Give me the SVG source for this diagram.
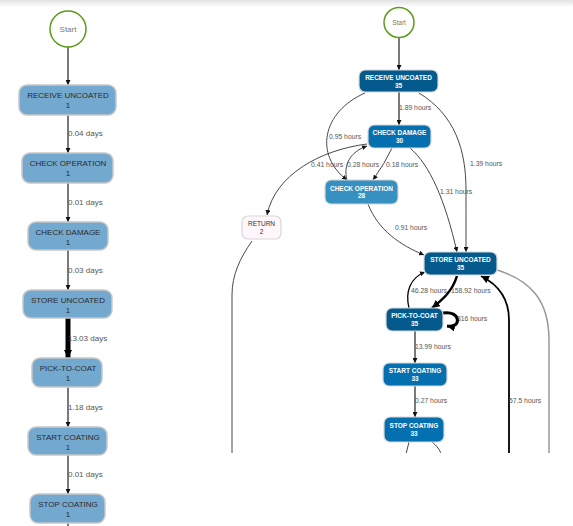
<svg xmlns="http://www.w3.org/2000/svg" width="573" height="526" viewBox="0 0 573 526">
<defs>
<linearGradient id="topshade" x1="0" y1="0" x2="0" y2="1">
<stop offset="0" stop-color="#e2e2e2"/>
<stop offset="1" stop-color="#ffffff"/>
</linearGradient>
<marker id="a" viewBox="0 0 10 10" refX="10" refY="5" markerWidth="5" markerHeight="5" markerUnits="userSpaceOnUse" orient="auto">
<path d="M0,0 L10,5 L0,10 z" fill="#111"/>
</marker>
<marker id="ab" viewBox="0 0 10 10" refX="10" refY="5" markerWidth="8" markerHeight="8" markerUnits="userSpaceOnUse" orient="auto">
<path d="M0,0 L10,5 L0,10 z" fill="#000"/>
</marker>
<clipPath id="rclip"><rect x="220" y="0" width="353" height="453"/></clipPath>
</defs>
<style>
.start{fill:#fff;stroke:#5c9b1c;stroke-width:1.5}
.st{font-family:"Liberation Sans",Arial,sans-serif;fill:#7a7a66;text-anchor:middle}
.ln{fill:#74a9cf;stroke:#c8c8c8;stroke-width:1.5}
.lt{font-family:"Liberation Sans",Arial,sans-serif;font-size:8px;fill:#2a2a2a;text-anchor:middle}
.rn{stroke:#d8d8d8;stroke-width:1.2}
.rt{font-family:"Liberation Sans",Arial,sans-serif;font-size:6.5px;font-weight:bold;fill:#fff;text-anchor:middle}
.rtd{font-family:"Liberation Sans",Arial,sans-serif;font-size:6.5px;fill:#333;text-anchor:middle}
.d1{fill:#045a8d}.d2{fill:#0570b0}.d3{fill:#3690c0}.d4{fill:#fff7fb}
.el{font-family:"Liberation Sans",Arial,sans-serif;font-size:8px;fill:#555}
.er{font-family:"Liberation Sans",Arial,sans-serif;font-size:6.8px;fill:#555}
.eg{fill:none;stroke:#7a7a7a;stroke-width:2}
.ek{fill:none;stroke:#333;stroke-width:0.9}
.eK{fill:none;stroke:#000}
</style>
<rect x="0" y="0" width="573" height="7" fill="url(#topshade)"/>

<g id="connectors">
<!-- left column -->
<path class="eg" d="M68 47 L68 85" marker-end="url(#a)"/>
<path class="eg" d="M68 115 L68 153" marker-end="url(#a)"/>
<path class="eg" d="M68 183 L68 222" marker-end="url(#a)"/>
<path class="eg" d="M68 250 L68 290" marker-end="url(#a)"/>
<path class="eK" stroke-width="5" d="M68 318 L68 358" marker-end="url(#ab)"/>
<path class="eg" d="M68 387 L68 427" marker-end="url(#a)"/>
<path class="eg" d="M68 455 L68 494" marker-end="url(#a)"/>
<path class="eg" d="M68 523 L68 527"/>
<text class="el" x="68" y="136">0.04 days</text>
<text class="el" x="68" y="205">0.01 days</text>
<text class="el" x="68" y="273">0.03 days</text>
<text class="el" x="68" y="341">13.03 days</text>
<text class="el" x="68" y="410">1.18 days</text>
<text class="el" x="68" y="477">0.01 days</text>

<!-- right panel -->
<g clip-path="url(#rclip)">
<path class="eg" d="M399 38 L399 70" marker-end="url(#a)"/>
<path class="eg" d="M399 92 L399 125" marker-end="url(#a)"/>
<path class="ek" d="M365 93 C322 112 314 155 347 180" marker-end="url(#a)"/>
<path class="ek" d="M419 93 C455 115 466 150 466 190 L466 252" marker-end="url(#a)"/>
<path class="ek" d="M392 148 Q385 163 373 180" marker-end="url(#a)"/>
<path class="ek" d="M347 180 C343 165 350 152 367 146" marker-end="url(#a)"/>
<path class="ek" d="M367 144 C320 150 275 175 267 215" marker-end="url(#a)"/>
<path class="ek" d="M410 148 C430 165 445 200 457 252" marker-end="url(#a)"/>
<path class="ek" d="M368 204 C378 230 400 245 424 255" marker-end="url(#a)"/>
<path class="eK" stroke-width="2.5" d="M457 276 C452 292 442 300 432 308" marker-end="url(#ab)"/>
<path class="eK" stroke-width="1.3" d="M409 308 C405 292 410 278 425 272" marker-end="url(#a)"/>
<text class="er" x="457" y="321">316 hours</text>
<path class="eK" stroke-width="3" d="M443 313 C461 310 462 329 447 326" marker-end="url(#ab)"/>
<path class="eg" stroke-width="1.4" d="M415 331 L415 363" marker-end="url(#a)"/>
<path class="eg" stroke-width="1.4" d="M415 386 L415 417" marker-end="url(#a)"/>
<path class="ek" d="M409 442 L406 454"/>
<path class="ek" d="M432 442 C437 446 440 450 441 454"/>
<path class="eK" stroke-width="1.8" d="M509 454 L509 320 C509 295 495 283 481 276" marker-end="url(#ab)"/>
<path fill="none" stroke="#999" stroke-width="1.5" d="M497 270 C530 280 549 300 549 340 L549 454"/>
<path class="ek" stroke="#555" d="M252 241 C240 258 232 275 232 295 L232 454"/>
</g>
<text class="er" x="399" y="110">1.89 hours</text>
<text class="er" x="329" y="139">0.95 hours</text>
<text class="er" x="470" y="166">1.39 hours</text>
<text class="er" x="311" y="167">0.41 hours</text>
<text class="er" x="347" y="167">0.28 hours</text>
<text class="er" x="386" y="167">0.18 hours</text>
<text class="er" x="440" y="194">1.31 hours</text>
<text class="er" x="395" y="230">0.91 hours</text>
<text class="er" x="411" y="293">46.28 hours</text>
<text class="er" x="451" y="293">158.92 hours</text>
<text class="er" x="415" y="349">13.99 hours</text>
<text class="er" x="415" y="403">0.27 hours</text>
<text class="er" x="509" y="403">57.5 hours</text>
</g>

<!-- left nodes -->
<g id="l-start"><circle class="start" cx="68" cy="29" r="18"/><text class="st" x="68" y="31.5" font-size="8">Start</text></g>
<g id="l-receive"><rect class="ln" x="19" y="85" width="97" height="30" rx="8"/><text class="lt" x="68" y="98.3">RECEIVE UNCOATED</text><text class="lt" x="68" y="108.3">1</text></g>
<g id="l-checkop"><rect class="ln" x="22" y="153" width="91" height="30" rx="8"/><text class="lt" x="68" y="166.3">CHECK OPERATION</text><text class="lt" x="68" y="176.3">1</text></g>
<g id="l-checkdmg"><rect class="ln" x="28" y="222" width="80" height="28" rx="8"/><text class="lt" x="68" y="234.5">CHECK DAMAGE</text><text class="lt" x="68" y="244.5">1</text></g>
<g id="l-store"><rect class="ln" x="23" y="290" width="89" height="28" rx="8"/><text class="lt" x="68" y="302.5">STORE UNCOATED</text><text class="lt" x="68" y="312.5">1</text></g>
<g id="l-pick"><rect class="ln" x="32" y="358" width="70" height="29" rx="8"/><text class="lt" x="68" y="370.8">PICK-TO-COAT</text><text class="lt" x="68" y="380.8">1</text></g>
<g id="l-startc"><rect class="ln" x="28" y="427" width="79" height="28" rx="8"/><text class="lt" x="68" y="439.5">START COATING</text><text class="lt" x="68" y="449.5">1</text></g>
<g id="l-stopc"><rect class="ln" x="30" y="494" width="75" height="29" rx="8"/><text class="lt" x="68" y="506.5">STOP COATING</text><text class="lt" x="68" y="516.5">1</text></g>

<!-- right nodes -->
<g id="r-start"><circle class="start" cx="399" cy="22.5" r="15"/><text class="st" x="399" y="24.8" font-size="6.5">Start</text></g>
<g id="r-receive"><rect class="rn d1" x="359" y="70" width="79" height="22" rx="6"/><text class="rt" x="398.5" y="80">RECEIVE UNCOATED</text><text class="rt" x="398.5" y="87.5">35</text></g>
<g id="r-checkdmg"><rect class="rn d2" x="368" y="125" width="63" height="23" rx="6"/><text class="rt" x="399.5" y="135">CHECK DAMAGE</text><text class="rt" x="399.5" y="142.7">30</text></g>
<g id="r-checkop"><rect class="rn d3" x="325" y="180" width="73" height="24" rx="6"/><text class="rt" x="361.5" y="190.5">CHECK OPERATION</text><text class="rt" x="361.5" y="198.2">28</text></g>
<g id="r-return"><rect class="rn d4" stroke="#c9c0c6" x="242" y="216" width="39" height="23" rx="6"/><text class="rtd" x="261.5" y="226.3">RETURN</text><text class="rtd" x="261.5" y="234">2</text></g>
<g id="r-store"><rect class="rn d1" x="424" y="252" width="73" height="23" rx="6"/><text class="rt" x="460.5" y="262.3">STORE UNCOATED</text><text class="rt" x="460.5" y="270">35</text></g>
<g id="r-pick"><rect class="rn d1" x="386" y="308" width="57" height="23" rx="6"/><text class="rt" x="414.5" y="318.3">PICK-TO-COAT</text><text class="rt" x="414.5" y="326">35</text></g>
<g id="r-startc"><rect class="rn d2" x="383" y="363" width="64" height="23" rx="6"/><text class="rt" x="415" y="373.3">START COATING</text><text class="rt" x="415" y="381">33</text></g>
<g id="r-stopc"><rect class="rn d2" x="384" y="417" width="60" height="25" rx="6"/><text class="rt" x="414" y="428.3">STOP COATING</text><text class="rt" x="414" y="436">33</text></g>
</svg>
